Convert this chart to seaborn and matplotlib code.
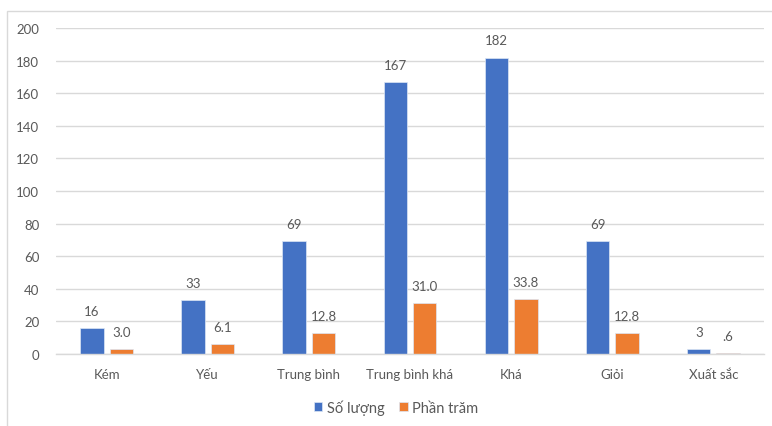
import matplotlib
matplotlib.use("Agg")
import matplotlib.pyplot as plt
import seaborn as sns
import pandas as pd
from matplotlib.patches import Rectangle

# Data
categories = ["Kém", "Yếu", "Trung bình", "Trung bình khá", "Khá", "Giỏi", "Xuất sắc"]
so_luong = [16, 33, 69, 167, 182, 69, 3]
phan_tram = [3.0, 6.1, 12.8, 31.0, 33.8, 12.8, 0.6]
phan_tram_labels = ["3.0", "6.1", "12.8", "31.0", "33.8", "12.8", ".6"]
series_names = ["Số lượng", "Phần trăm"]
y_ticks = [0, 20, 40, 60, 80, 100, 120, 140, 160, 180, 200]

df = pd.DataFrame({
    "Xếp loại": categories * 2,
    "Giá trị": so_luong + phan_tram,
    "Chỉ tiêu": [series_names[0]] * len(categories) + [series_names[1]] * len(categories),
})

sns.set_theme(style="white")
plt.rcParams["font.family"] = ["Lato", "DejaVu Sans"]

text_color = "#595959"
grid_color = "#D9D9D9"
palette = {series_names[0]: "#4472C4", series_names[1]: "#ED7D31"}

fig = plt.figure(figsize=(7.72, 4.27), dpi=100)
ax = fig.add_axes([56 / 772, 72.3 / 427, 708 / 772, 325.4 / 427])

sns.barplot(data=df, x="Xếp loại", y="Giá trị", hue="Chỉ tiêu", palette=palette,
            width=0.58, gap=0.2, ax=ax, saturation=1, legend=True,
            edgecolor="#DCE6F5", linewidth=0.5)

ax.set_xlim(-0.5, len(categories) - 0.5)
ax.set_ylim(0, 200)
ax.set_yticks(y_ticks)
ax.set_yticklabels([str(t) for t in y_ticks])
ax.yaxis.grid(True, color=grid_color, linewidth=1)
ax.set_axisbelow(True)
for side in ["left", "right", "top"]:
    ax.spines[side].set_visible(False)
ax.spines["bottom"].set_color(grid_color)
ax.spines["bottom"].set_linewidth(1)
ax.tick_params(axis="both", length=0, colors=text_color, labelsize=9.5)
ax.tick_params(axis="y", pad=12)
ax.tick_params(axis="x", pad=10)
ax.set_xlabel("")
ax.set_ylabel("")

# Value labels above bars
ax.bar_label(ax.containers[0], labels=[str(v) for v in so_luong], padding=8,
             color=text_color, fontsize=9.5)
ax.bar_label(ax.containers[1], labels=phan_tram_labels, padding=8,
             color=text_color, fontsize=9.5)

handles, labels = ax.get_legend_handles_labels()
ax.legend(handles, labels, loc="center", bbox_to_anchor=(0.513, 19 / 427),
          bbox_transform=fig.transFigure, ncol=2, frameon=False,
          handlelength=0.6, handleheight=0.6, handletextpad=0.3,
          columnspacing=1.0, labelcolor=text_color, fontsize=10.5)

# Chart border
fig.patches.append(Rectangle((7 / 772, -0.05), 1.0, (427 - 11.5) / 427 + 0.05,
                             transform=fig.transFigure, fill=False,
                             edgecolor="#D9D9D9", linewidth=1))

fig.savefig("out.png", dpi=100)
